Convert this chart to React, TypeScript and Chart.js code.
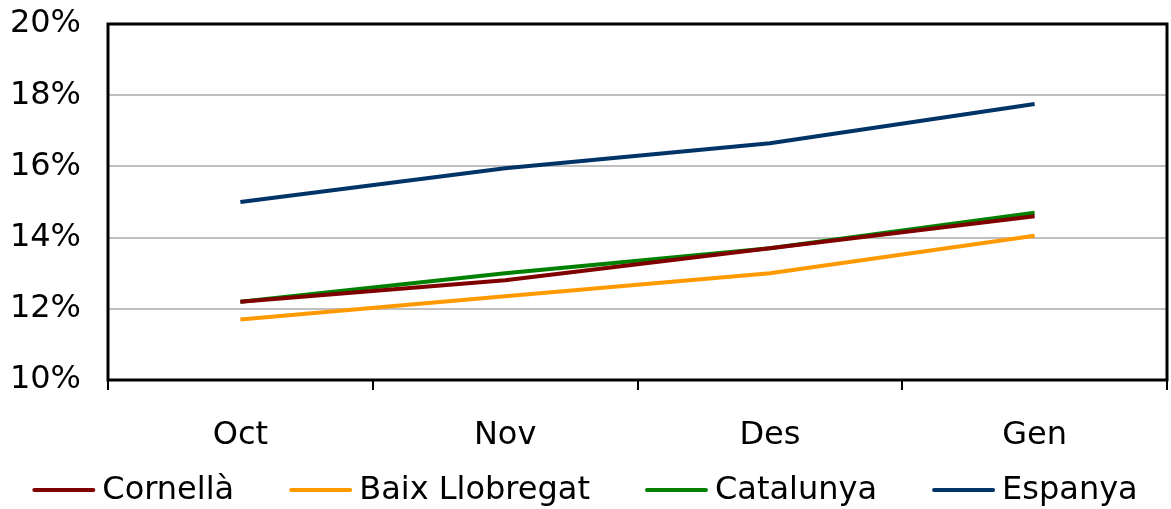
import React, { useEffect, useRef } from "react";
import { Chart, registerables } from "chart.js";

Chart.register(...registerables);

const categories = ["Oct", "Nov", "Des", "Gen"];
const cornella = [12.2, 12.8, 13.7, 14.6];
const baixLlobregat = [11.7, 12.35, 13.0, 14.05];
const catalunya = [12.2, 13.0, 13.7, 14.7];
const espanya = [15.0, 15.95, 16.65, 17.75];
const yTicks = [10, 12, 14, 16, 18, 20];

const FONT = "'DejaVu Sans', sans-serif";
const FSIZE = 32;

const frame = {
  id: "frame",
  afterDatasetsDraw(chart: any) {
    const { ctx, chartArea } = chart;
    ctx.save();
    ctx.strokeStyle = "#000";
    ctx.lineWidth = 3;
    ctx.strokeRect(chartArea.left, chartArea.top, chartArea.right - chartArea.left, chartArea.bottom - chartArea.top);
    ctx.restore();
  },
};

const bottomLegend = {
  id: "bottomLegend",
  afterDraw(chart: any) {
    const { ctx } = chart;
    const sample = 63;
    const gapText = 7;
    const gapItem = 55;
    ctx.save();
    ctx.font = `${FSIZE}px ${FONT}`;
    const items = chart.data.datasets.map((d: any) => ({
      label: d.label,
      color: d.borderColor,
      w: ctx.measureText(d.label).width,
    }));
    const total = items.reduce((s: number, it: any) => s + sample + gapText + it.w, 0) + gapItem * (items.length - 1);
    let x = 585 - total / 2;
    const y = chart.height - 19;
    ctx.textBaseline = "middle";
    ctx.textAlign = "left";
    for (const it of items) {
      ctx.strokeStyle = it.color;
      ctx.lineWidth = 4;
      ctx.lineCap = "round";
      ctx.beginPath();
      ctx.moveTo(x + 2, y);
      ctx.lineTo(x + sample - 2, y);
      ctx.stroke();
      ctx.fillStyle = "#000";
      ctx.fillText(it.label, x + sample + gapText, y + 1);
      x += sample + gapText + it.w + gapItem;
    }
    ctx.restore();
  },
};

export default function App() {
  const ref = useRef<HTMLCanvasElement>(null);
  useEffect(() => {
    const mk = (label: string, data: number[], color: string) => ({
      label,
      data,
      borderColor: color,
      backgroundColor: color,
      borderWidth: 4,
      pointRadius: 0,
      tension: 0,
      fill: false,
    });
    const chart = new Chart(ref.current!, {
      type: "line",
      data: {
        labels: categories,
        datasets: [
          mk("Cornellà", cornella, "#800000"),
          mk("Baix Llobregat", baixLlobregat, "#FF9900"),
          mk("Catalunya", catalunya, "#008000"),
          mk("Espanya", espanya, "#003366"),
        ],
      },
      options: {
        animation: false,
        responsive: false,
        maintainAspectRatio: false,
        layout: { padding: { left: 0, right: 4, top: 24, bottom: 58 } },
        plugins: {
          tooltip: { enabled: false },
          legend: { display: false },
        },
        scales: {
          x: {
            offset: true,
            grid: {
              offset: true,
              drawOnChartArea: false,
              drawTicks: true,
              tickLength: 10,
              color: "#000",
              lineWidth: 2,
            },
            border: { display: false },
            ticks: { color: "#000", font: { family: FONT, size: FSIZE }, padding: 26 },
            afterFit: (axis: any) => {
              axis.height = 71;
              axis.paddingLeft = 0;
              axis.paddingRight = 0;
            },
          },
          y: {
            min: 10,
            max: 20,
            afterBuildTicks: (axis: any) => {
              axis.ticks = yTicks.map((v) => ({ value: v }));
            },
            afterFit: (axis: any) => {
              axis.width = 108;
              axis.paddingTop = 0;
              axis.paddingBottom = 0;
            },
            grid: { color: "#C0C0C0", lineWidth: 2, drawTicks: false },
            border: { display: false },
            ticks: {
              color: "#000",
              font: { family: FONT, size: FSIZE },
              padding: 27,
              callback: (v: any) => v + "%",
            },
          },
        },
      },
      plugins: [frame, bottomLegend],
    });
    return () => chart.destroy();
  }, []);
  return (
    <div style={{ position: "fixed", left: 0, top: 0, width: 1171, height: 509, background: "#fff" }}>
      <canvas ref={ref} width={1171} height={509} style={{ display: "block" }} />
    </div>
  );
}
